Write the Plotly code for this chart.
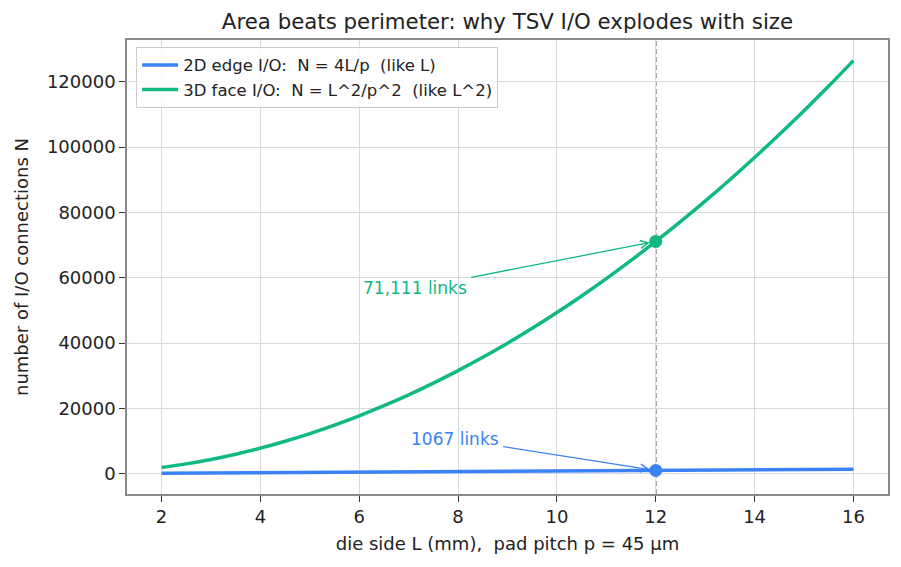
import plotly.graph_objects as go

# die side L (mm)
L_mm = [2, 2.5, 3, 3.5, 4, 4.5, 5, 5.5, 6, 6.5, 7, 7.5, 8, 8.5, 9, 9.5, 10,
        10.5, 11, 11.5, 12, 12.5, 13, 13.5, 14, 14.5, 15, 15.5, 16]
# 2D edge I/O count
n_2d = [177.8, 222.2, 266.7, 311.1, 355.6, 400.0, 444.4, 488.9, 533.3, 577.8,
        622.2, 666.7, 711.1, 755.6, 800.0, 844.4, 888.9, 933.3, 977.8, 1022.2,
        1066.7, 1111.1, 1155.6, 1200.0, 1244.4, 1288.9, 1333.3, 1377.8, 1422.2]
# 3D face I/O count
n_3d = [1975.3, 3086.4, 4444.4, 6049.4, 7901.2, 10000.0, 12345.7, 14938.3,
        17777.8, 20864.2, 24197.5, 27777.8, 31604.9, 35679.0, 40000.0, 44567.9,
        49382.7, 54444.4, 59753.1, 65308.6, 71111.1, 77160.5, 83456.8, 90000.0,
        96790.1, 103827.2, 111111.1, 118642.0, 126419.8]

L_mark = 12
marks_2d = 1066.7
marks_3d = 71111.1
label_2d = "1067 links"
label_3d = "71,111 links"
label_pos_2d = (7.93, 10700)
label_pos_3d = (7.12, 56800)

x_ticks = [2, 4, 6, 8, 10, 12, 14, 16]
y_ticks = [0, 20000, 40000, 60000, 80000, 100000, 120000]

BLUE = "#3b82f6"
GREEN = "#10b981"
FONT = "DejaVu Sans"

fig = go.Figure()
fig.add_trace(go.Scatter(x=L_mm, y=n_2d, mode="lines",
                         line=dict(color=BLUE, width=3.5),
                         name="2D edge I/O:\u00a0 N = 4L/p\u00a0 (like L)"))
fig.add_trace(go.Scatter(x=L_mm, y=n_3d, mode="lines", line_shape="spline",
                         line=dict(color=GREEN, width=3.5),
                         name="3D face I/O:\u00a0 N = L^2/p^2\u00a0 (like L^2)"))
fig.add_trace(go.Scatter(x=[L_mark], y=[marks_3d], mode="markers",
                         marker=dict(color=GREEN, size=13), showlegend=False))
fig.add_trace(go.Scatter(x=[L_mark], y=[marks_2d], mode="markers",
                         marker=dict(color=BLUE, size=13), showlegend=False))

fig.add_shape(type="line", xref="x", yref="paper", x0=L_mark, x1=L_mark,
              y0=0, y1=1, line=dict(color="#555555", width=1.5, dash="5px,3px"),
              layer="below")

for (lx, ly), txt, yv, col in [(label_pos_3d, label_3d, marks_3d, GREEN),
                               (label_pos_2d, label_2d, marks_2d, BLUE)]:
    fig.add_annotation(x=L_mark, y=yv, ax=lx, ay=ly, axref="x", ayref="y",
                       xref="x", yref="y", text=txt, showarrow=True,
                       arrowhead=5, arrowsize=1.2, arrowwidth=1.3, arrowcolor=col,
                       standoff=6, borderpad=4,
                       font=dict(color=col, size=17, family=FONT))

axis_common = dict(showgrid=True, gridcolor="#d5dae0", gridwidth=1,
                   showline=True, mirror=True, linecolor="#8a8a8a", linewidth=1.5,
                   ticks="outside", ticklen=6, tickwidth=1.2, tickcolor="#333",
                   tickfont=dict(size=18, family=FONT, color="#222"),
                   zeroline=False)

fig.update_xaxes(range=[1.3, 16.7], tickvals=x_ticks, **axis_common,
                 title=dict(text="die side L (mm),\u00a0 pad pitch p = 45 µm",
                            font=dict(size=18, family=FONT, color="#222"),
                            standoff=11))
fig.update_yaxes(range=[-6134, 132732], tickvals=y_ticks, tickformat="d",
                 **axis_common,
                 title=dict(text="number of I/O connections N",
                            font=dict(size=18, family=FONT, color="#222"),
                            standoff=14))

fig.update_layout(
    width=901, height=567,
    margin=dict(l=127, r=13, t=40, b=73),
    paper_bgcolor="white", plot_bgcolor="white",
    font=dict(family=FONT, color="#222"),
    title=dict(text="Area beats perimeter: why TSV I/O explodes with size",
               x=0.5, xref="paper", xanchor="center",
               y=1 - 22 / 567, yref="container", yanchor="middle",
               font=dict(size=21.3, family=FONT, color="#222")),
    legend=dict(x=0.012, y=0.985, xanchor="left", yanchor="top",
                bgcolor="rgba(255,255,255,0.85)", bordercolor="#cccccc",
                borderwidth=1, itemwidth=36,
                font=dict(size=16.5, family=FONT, color="#222")),
    showlegend=True,
)

fig.write_html("out.html")
